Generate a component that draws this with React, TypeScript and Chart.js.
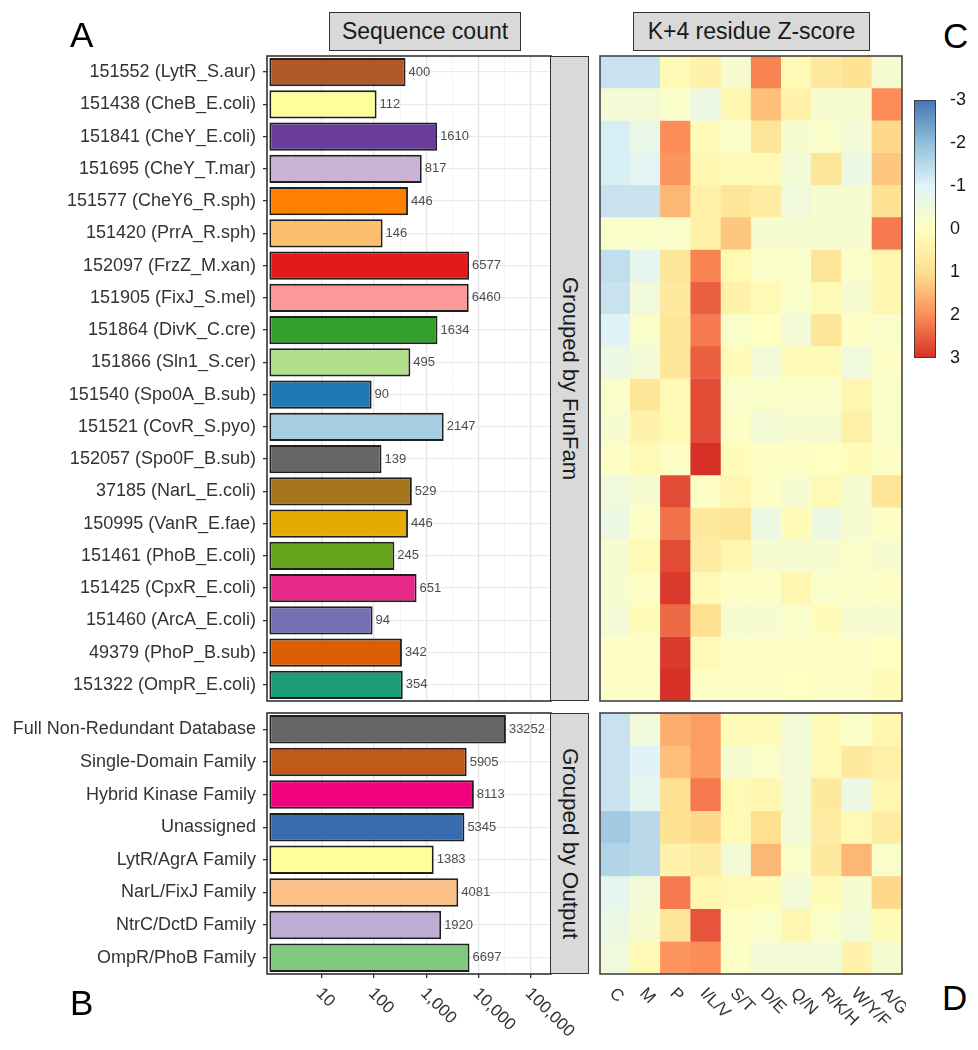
import React, { useEffect, useRef } from 'react';
import { Chart, registerables } from 'chart.js';
Chart.register(...registerables);

const FONT = '"Liberation Sans", Arial, sans-serif';

// ---------- data ----------
const funfamLabels = [
  '151552 (LytR_S.aur)', '151438 (CheB_E.coli)', '151841 (CheY_E.coli)', '151695 (CheY_T.mar)',
  '151577 (CheY6_R.sph)', '151420 (PrrA_R.sph)', '152097 (FrzZ_M.xan)', '151905 (FixJ_S.mel)',
  '151864 (DivK_C.cre)', '151866 (Sln1_S.cer)', '151540 (Spo0A_B.sub)', '151521 (CovR_S.pyo)',
  '152057 (Spo0F_B.sub)', '37185 (NarL_E.coli)', '150995 (VanR_E.fae)', '151461 (PhoB_E.coli)',
  '151425 (CpxR_E.coli)', '151460 (ArcA_E.coli)', '49379 (PhoP_B.sub)', '151322 (OmpR_E.coli)',
];
const funfamCounts = [400, 112, 1610, 817, 446, 146, 6577, 6460, 1634, 495, 90, 2147, 139, 529, 446, 245, 651, 94, 342, 354];
const funfamColors = [
  '#b15928', '#ffff99', '#6a3d9a', '#cab2d6', '#ff7f00', '#fdbf6f', '#e31a1c', '#fb9a99',
  '#33a02c', '#b2df8a', '#1f78b4', '#a6cee3', '#666666', '#a6761d', '#e6ab02', '#66a61e',
  '#e7298a', '#7570b3', '#d95f02', '#1b9e77',
];

const outputLabels = [
  'Full Non-Redundant Database', 'Single-Domain Family', 'Hybrid Kinase Family', 'Unassigned',
  'LytR/AgrA Family', 'NarL/FixJ Family', 'NtrC/DctD Family', 'OmpR/PhoB Family',
];
const outputCounts = [33252, 5905, 8113, 5345, 1383, 4081, 1920, 6697];
const outputColors = ['#666666', '#bf5b17', '#f0027f', '#386cb0', '#ffff99', '#fdc086', '#beaed4', '#7fc97f'];

const countTicks = [10, 100, 1000, 10000, 100000];
const countTickLabels = ['10', '100', '1,000', '10,000', '100,000'];

const residueGroups = ['C', 'M', 'P', 'I/L/V', 'S/T', 'D/E', 'Q/N', 'R/K/H', 'W/Y/F', 'A/G'];

const funfamZ = [
  [-1.3, -1.3, 0.2, 0.4, -0.3, 2.1, 0.2, 0.7, 0.9, -0.3],
  [-0.4, -0.4, -0.2, -0.6, 0.3, 1.4, 0.4, -0.3, -0.3, 2.0],
  [-1.1, -0.7, 2.0, 0.1, -0.2, 0.8, -0.3, -0.2, -0.4, 1.1],
  [-1.1, -0.9, 1.9, 0.3, 0.1, 0.2, -0.4, 0.8, -0.6, 1.3],
  [-1.3, -1.3, 1.5, 0.5, 0.8, 0.6, -0.5, -0.3, -0.3, 0.9],
  [-0.2, -0.2, -0.2, 0.5, 1.3, -0.3, -0.3, -0.3, -0.3, 2.2],
  [-1.4, -0.8, 0.8, 2.1, 0.2, -0.2, -0.2, 0.8, -0.2, 0.3],
  [-1.3, -0.5, 0.7, 2.5, 0.4, 0.2, -0.2, 0.2, -0.3, 0.3],
  [-1.0, -0.2, 0.8, 2.2, -0.2, 0.0, -0.4, 0.8, -0.1, -0.2],
  [-0.6, -0.4, 0.8, 2.5, 0.1, -0.4, 0.1, 0.1, -0.5, -0.1],
  [-0.2, 0.8, 0.2, 2.7, -0.2, -0.2, -0.2, -0.2, 0.3, -0.2],
  [-0.3, 0.4, 0.2, 2.7, -0.1, -0.4, -0.3, -0.3, 0.5, -0.2],
  [-0.1, 0.2, -0.1, 3.0, 0.1, -0.1, -0.1, 0.0, 0.1, -0.1],
  [-0.5, -0.3, 2.7, -0.1, 0.3, -0.1, -0.3, 0.2, -0.3, 0.8],
  [-0.6, -0.1, 2.3, 0.7, 0.8, -0.6, 0.1, -0.6, -0.3, -0.1],
  [-0.3, 0.2, 2.7, 0.6, 0.3, -0.3, -0.3, -0.3, -0.2, -0.3],
  [-0.3, -0.1, 2.9, 0.2, -0.1, -0.1, 0.3, -0.2, -0.2, -0.1],
  [-0.4, 0.1, 2.4, 1.0, -0.3, -0.3, -0.2, 0.1, -0.3, -0.3],
  [-0.1, -0.1, 2.9, 0.2, -0.1, -0.1, -0.1, -0.1, -0.1, 0.0],
  [-0.1, -0.1, 3.0, -0.1, -0.1, -0.1, 0.0, -0.1, -0.1, 0.1],
];

const outputZ = [
  [-1.3, -0.5, 1.6, 1.8, 0.1, 0.1, -0.4, 0.1, -0.2, 0.3],
  [-1.3, -1.0, 1.4, 1.8, -0.3, -0.2, -0.4, 0.2, 0.7, 0.5],
  [-1.3, -0.8, 0.9, 2.2, 0.2, 0.3, -0.4, 0.7, -0.6, 0.3],
  [-1.8, -1.5, 0.9, 1.1, 0.2, 1.0, -0.4, 0.6, 0.2, 0.6],
  [-1.6, -1.5, 0.4, 0.6, -0.4, 1.5, -0.2, 0.7, 1.5, -0.2],
  [-0.8, -0.4, 2.2, 0.3, 0.2, 0.1, -0.4, 0.1, -0.3, 1.1],
  [-0.6, -0.3, 0.8, 2.6, -0.1, -0.2, 0.3, -0.2, -0.4, 0.1],
  [-0.5, 0.2, 1.9, 2.0, -0.1, -0.4, -0.4, -0.4, 0.4, -0.3],
];

const zTicks = [-3, -2, -1, 0, 1, 2, 3];
const zPalette = ['#4575b4', '#91bfdb', '#e0f3f8', '#ffffbf', '#fee090', '#fc8d59', '#d73027'];

// ---------- helpers ----------
function hexToRgb(h: string) {
  const n = parseInt(h.slice(1), 16);
  return [(n >> 16) & 255, (n >> 8) & 255, n & 255];
}
function zColor(z: number) {
  const lo = zTicks[0];
  const hi = zTicks[zTicks.length - 1];
  const t = ((Math.max(lo, Math.min(hi, z)) - lo) / (hi - lo)) * (zPalette.length - 1);
  const i = Math.min(zPalette.length - 2, Math.floor(t));
  const f = t - i;
  const a = hexToRgb(zPalette[i]);
  const b = hexToRgb(zPalette[i + 1]);
  const c = a.map((v, k) => Math.round(v + (b[k] - v) * f));
  return `rgb(${c[0]},${c[1]},${c[2]})`;
}

const gridVals = [
  ...countTicks.map((v) => ({ value: v, major: true })),
  ...countTicks.map((v) => ({ value: v / Math.sqrt(10), major: false })),
].sort((a, b) => a.value - b.value);

const framePlugin = (color: string) => ({
  id: 'frame',
  afterDraw(chart: any) {
    const { ctx, chartArea: a } = chart;
    ctx.save();
    ctx.strokeStyle = color;
    ctx.lineWidth = 1.6;
    ctx.strokeRect(a.left, a.top, a.right - a.left, a.bottom - a.top);
    ctx.restore();
  },
});

const valueLabelPlugin = {
  id: 'valueLabels',
  afterDatasetsDraw(chart: any) {
    const { ctx } = chart;
    const meta = chart.getDatasetMeta(0);
    const data = chart.data.datasets[0].data;
    ctx.save();
    ctx.font = `13px ${FONT}`;
    ctx.fillStyle = '#4d4d4d';
    ctx.textAlign = 'left';
    ctx.textBaseline = 'middle';
    meta.data.forEach((el: any, i: number) => {
      ctx.fillText(String(data[i]), el.x + 3, el.y);
    });
    ctx.restore();
  },
};

function rotatedLabels(getItems: (chart: any) => { x: number; text: string }[]) {
  return {
    id: 'rotLabels',
    afterDraw(chart: any) {
      const { ctx, chartArea } = chart;
      ctx.save();
      ctx.font = `17px ${FONT}`;
      ctx.fillStyle = '#333333';
      ctx.textAlign = 'left';
      ctx.textBaseline = 'middle';
      getItems(chart).forEach(({ x, text }) => {
        ctx.save();
        ctx.translate(x - 3, chartArea.bottom + 17);
        ctx.rotate(Math.PI / 4);
        ctx.fillText(text, 0, 0);
        ctx.restore();
      });
      ctx.restore();
    },
  };
}

function barConfig(labels: string[], counts: number[], colors: string[], withAxis: boolean): any {
  const plugins: any[] = [valueLabelPlugin, framePlugin('#333333')];
  if (withAxis) {
    plugins.push(
      rotatedLabels((chart) =>
        countTicks.map((v, i) => ({ x: chart.scales.x.getPixelForValue(v), text: countTickLabels[i] }))
      )
    );
  }
  return {
    type: 'bar',
    data: {
      labels,
      datasets: [
        {
          data: counts,
          backgroundColor: colors,
          borderColor: '#1f1f1f',
          borderWidth: 1.9,
          borderSkipped: false,
          base: 1,
          barPercentage: 0.87,
          categoryPercentage: 1,
        },
      ],
    },
    options: {
      indexAxis: 'y',
      animation: false,
      responsive: false,
      maintainAspectRatio: false,
      layout: { padding: { top: 4, right: withAxis ? 45 : 4, bottom: withAxis ? 72 : 4, left: 0 } },
      plugins: { legend: { display: false }, tooltip: { enabled: false } },
      scales: {
        x: {
          type: 'logarithmic',
          min: 0.9,
          max: 242000,
          afterBuildTicks: (s: any) => {
            s.ticks = gridVals.map((g) => ({ value: g.value, major: g.major }));
          },
          afterFit: (s: any) => {
            s.paddingLeft = 0;
            s.paddingRight = 0;
          },
          ticks: { display: false },
          grid: {
            color: (c: any) => (c.tick && c.tick.major ? '#e6e6e6' : '#f0f0f0'),
            lineWidth: (c: any) => (c.tick && c.tick.major ? 1.3 : 0.8),
            drawTicks: withAxis,
            tickLength: 4,
            tickColor: (c: any) => (c.tick && c.tick.major ? '#333333' : 'rgba(0,0,0,0)'),
            tickWidth: 1.3,
          },
          border: { display: false },
        },
        y: {
          type: 'category',
          afterFit: (s: any) => {
            s.width = 267;
            s.paddingTop = 0;
            s.paddingBottom = 0;
          },
          ticks: {
            autoSkip: false,
            font: { family: FONT, size: 18 },
            color: '#333333',
            padding: 7,
          },
          grid: {
            offset: false,
            color: '#ebebeb',
            lineWidth: 1.3,
            drawTicks: true,
            tickLength: 4,
            tickColor: '#333333',
            tickWidth: 1.3,
          },
          border: { display: false },
        },
      },
    },
    plugins,
  };
}

function heatConfig(rows: number[][], withAxis: boolean): any {
  const plugins: any[] = [framePlugin('#444444')];
  if (withAxis) {
    plugins.push(
      rotatedLabels((chart) =>
        residueGroups.map((g, i) => ({ x: chart.scales.x.getPixelForValue(i), text: g }))
      )
    );
  }
  return {
    type: 'bar',
    data: {
      labels: residueGroups,
      datasets: rows.map((row, r) => ({
        data: row.map(() => [r - 0.5, r + 0.5]),
        backgroundColor: row.map(zColor),
        borderColor: row.map(zColor),
        borderWidth: 0.6,
        borderSkipped: false,
        grouped: false,
        barPercentage: 1,
        categoryPercentage: 1,
      })),
    },
    options: {
      animation: false,
      responsive: false,
      maintainAspectRatio: false,
      layout: { padding: { top: 4, right: 4, bottom: withAxis ? 76 : 4, left: 4 } },
      plugins: { legend: { display: false }, tooltip: { enabled: false } },
      scales: {
        x: { type: 'category', display: false, offset: true },
        y: { type: 'linear', display: false, reverse: true, min: -0.5, max: rows.length - 0.5 },
      },
    },
    plugins,
  };
}

function colorbarConfig(): any {
  const lo = zTicks[0];
  const hi = zTicks[zTicks.length - 1];
  return {
    type: 'bar',
    data: {
      labels: ['z'],
      datasets: [
        {
          data: [[lo, hi]],
          backgroundColor: (c: any) => {
            const chart = c.chart;
            const y = chart.scales && chart.scales.y;
            if (!chart.chartArea || !y) return zPalette[3];
            const g = chart.ctx.createLinearGradient(0, y.getPixelForValue(lo), 0, y.getPixelForValue(hi));
            zPalette.forEach((col, i) => g.addColorStop(i / (zPalette.length - 1), col));
            return g;
          },
          borderColor: '#333333',
          borderWidth: 1.2,
          borderSkipped: false,
          barPercentage: 1,
          categoryPercentage: 1,
        },
      ],
    },
    options: {
      animation: false,
      responsive: false,
      maintainAspectRatio: false,
      layout: { padding: { top: 16, right: 0, bottom: 14, left: 4 } },
      plugins: { legend: { display: false }, tooltip: { enabled: false } },
      scales: {
        x: { display: false },
        y: {
          position: 'right',
          reverse: true,
          min: lo,
          max: hi,
          afterBuildTicks: (s: any) => {
            s.ticks = zTicks.map((v) => ({ value: v }));
          },
          afterFit: (s: any) => {
            s.width = 42;
            s.paddingTop = 0;
            s.paddingBottom = 0;
          },
          ticks: { font: { family: FONT, size: 18 }, color: '#1a1a1a', padding: 14 },
          grid: { display: false, drawTicks: false },
          border: { display: false },
        },
      },
    },
  };
}

const boxStyle: React.CSSProperties = {
  position: 'absolute',
  background: '#d9d9d9',
  border: '1.5px solid #333333',
  boxSizing: 'border-box',
  display: 'flex',
  alignItems: 'center',
  justifyContent: 'center',
  color: '#1a1a1a',
  fontFamily: FONT,
};

const letterStyle: React.CSSProperties = {
  position: 'absolute',
  fontFamily: FONT,
  fontSize: 35,
  lineHeight: 1,
  color: '#000',
};

export default function App() {
  const barTop = useRef<HTMLCanvasElement>(null);
  const barBot = useRef<HTMLCanvasElement>(null);
  const heatTop = useRef<HTMLCanvasElement>(null);
  const heatBot = useRef<HTMLCanvasElement>(null);
  const cbar = useRef<HTMLCanvasElement>(null);

  useEffect(() => {
    const charts = [
      new Chart(barTop.current!, barConfig(funfamLabels, funfamCounts, funfamColors, false)),
      new Chart(barBot.current!, barConfig(outputLabels, outputCounts, outputColors, true)),
      new Chart(heatTop.current!, heatConfig(funfamZ, false)),
      new Chart(heatBot.current!, heatConfig(outputZ, true)),
      new Chart(cbar.current!, colorbarConfig()),
    ];
    return () => charts.forEach((c) => c.destroy());
  }, []);

  const cv = (left: number, top: number, w: number, h: number): React.CSSProperties => ({
    position: 'absolute',
    left,
    top,
    width: w,
    height: h,
  });

  return (
    <div style={{ position: 'absolute', left: 0, top: 0, width: 978, height: 1050, background: '#fff', overflow: 'hidden' }}>
      <canvas ref={barTop} width={555} height={653} style={cv(0, 52, 555, 653)} />
      <canvas ref={barBot} width={596} height={341} style={cv(0, 709, 596, 341)} />
      <canvas ref={heatTop} width={310} height={653} style={cv(596, 52, 310, 653)} />
      <canvas ref={heatBot} width={310} height={341} style={cv(596, 709, 310, 341)} />
      <canvas ref={cbar} width={68} height={288} style={cv(910, 84, 68, 288)} />

      <div style={{ ...boxStyle, left: 329, top: 12, width: 192, height: 39, fontSize: 23 }}>Sequence count</div>
      <div style={{ ...boxStyle, left: 633, top: 12, width: 237, height: 39, fontSize: 23 }}>K+4 residue Z-score</div>

      <div style={{ ...boxStyle, left: 550, top: 56, width: 39, height: 645, fontSize: 22 }}>
        <span style={{ writingMode: 'vertical-rl' }}>Grouped by FunFam</span>
      </div>
      <div style={{ ...boxStyle, left: 550, top: 713, width: 39, height: 261, fontSize: 22.5 }}>
        <span style={{ writingMode: 'vertical-rl' }}>Grouped by Output</span>
      </div>

      <div style={{ ...letterStyle, left: 70, top: 17 }}>A</div>
      <div style={{ ...letterStyle, left: 70, top: 985 }}>B</div>
      <div style={{ ...letterStyle, left: 943, top: 18 }}>C</div>
      <div style={{ ...letterStyle, left: 942, top: 980 }}>D</div>
    </div>
  );
}
